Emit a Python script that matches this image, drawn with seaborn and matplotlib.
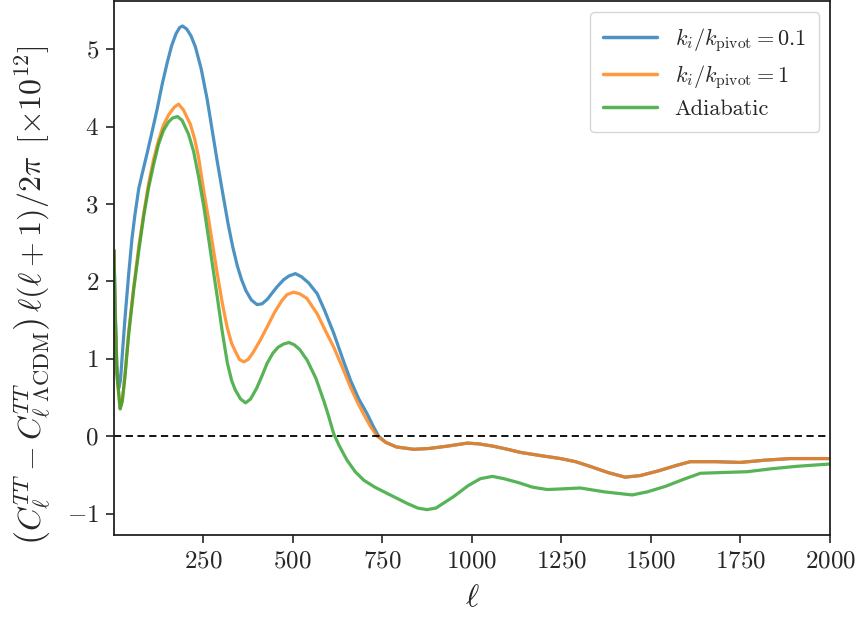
import numpy as np
import pandas as pd
import matplotlib
matplotlib.use("Agg")
import matplotlib.pyplot as plt
import seaborn as sns

# ---- data ----
ell_blue = [2, 5, 10, 15, 20, 25, 33, 43, 52, 60, 71, 80, 94, 108, 122, 136, 150, 163, 175, 185,
            193, 205, 217, 229, 245, 262, 276, 290, 303, 320, 333, 346, 358, 370, 385, 401, 415,
            430, 445, 457, 475, 490, 508, 525, 545, 569, 590, 615, 640, 662, 685, 708, 725, 740,
            760, 790, 838, 880, 931, 988, 1020, 1060, 1100, 1136, 1190, 1248, 1290, 1330, 1380,
            1428, 1470, 1520, 1570, 1610, 1680, 1749, 1820, 1889, 2000]
cl_blue = [2.4, 1.7, 0.9, 0.62, 0.72, 1.05, 1.55, 2.1, 2.55, 2.85, 3.2, 3.38, 3.65, 3.93, 4.22,
           4.54, 4.82, 5.05, 5.2, 5.28, 5.3, 5.26, 5.17, 5.03, 4.75, 4.35, 3.95, 3.55, 3.2, 2.75,
           2.45, 2.2, 2.02, 1.88, 1.76, 1.70, 1.71, 1.77, 1.86, 1.93, 2.02, 2.07, 2.10, 2.06, 1.98,
           1.84, 1.62, 1.33, 1.0, 0.72, 0.48, 0.29, 0.13, 0.0, -0.08, -0.14, -0.17, -0.16, -0.13,
           -0.09, -0.1, -0.13, -0.17, -0.21, -0.25, -0.29, -0.33, -0.39, -0.47, -0.53, -0.51,
           -0.45, -0.38, -0.33, -0.33, -0.34, -0.31, -0.29, -0.29]

ell_orange = [2, 5, 10, 19, 25, 32, 43, 57, 71, 85, 98, 112, 126, 140, 154, 170, 182, 195, 215,
              227, 238, 253, 266, 278, 290, 304, 318, 330, 340, 352, 364, 376, 390, 410, 429, 450,
              470, 485, 503, 520, 540, 569, 590, 615, 640, 662, 680, 700, 718, 736, 760, 790, 838,
              880, 931, 988, 1020, 1060, 1100, 1136, 1190, 1248, 1290, 1330, 1380, 1428, 1470,
              1520, 1570, 1610, 1680, 1749, 1820, 1889, 2000]
cl_orange = [2.4, 1.6, 0.8, 0.36, 0.46, 0.76, 1.35, 1.93, 2.45, 2.88, 3.25, 3.57, 3.82, 4.02, 4.15,
             4.25, 4.29, 4.22, 4.03, 3.84, 3.6, 3.15, 2.8, 2.45, 2.1, 1.72, 1.4, 1.2, 1.1, 0.99,
             0.96, 0.99, 1.08, 1.24, 1.41, 1.6, 1.75, 1.83, 1.86, 1.84, 1.78, 1.58, 1.38, 1.15,
             0.88, 0.63, 0.45, 0.27, 0.12, 0.0, -0.08, -0.14, -0.17, -0.16, -0.13, -0.09, -0.1,
             -0.13, -0.17, -0.21, -0.25, -0.29, -0.33, -0.39, -0.47, -0.53, -0.51, -0.45, -0.38,
             -0.33, -0.33, -0.34, -0.31, -0.29, -0.29]

ell_green = [2, 5, 10, 19, 25, 32, 43, 57, 71, 85, 98, 112, 126, 140, 154, 165, 179, 192, 210,
             224, 238, 253, 266, 278, 290, 304, 318, 330, 340, 355, 369, 383, 400, 415, 429, 445,
             460, 475, 490, 505, 520, 541, 565, 587, 600, 615, 630, 652, 675, 699, 730, 764, 790,
             820, 850, 875, 900, 950, 990, 1024, 1058, 1090, 1130, 1170, 1211, 1260, 1303, 1370,
             1448, 1490, 1540, 1590, 1638, 1700, 1768, 1840, 1907, 2000]
cl_green = [2.4, 1.6, 0.8, 0.35, 0.45, 0.75, 1.32, 1.9, 2.39, 2.85, 3.2, 3.5, 3.77, 3.95, 4.06,
            4.11, 4.13, 4.08, 3.9, 3.68, 3.35, 2.95, 2.55, 2.17, 1.8, 1.35, 0.95, 0.72, 0.6, 0.48,
            0.43, 0.48, 0.62, 0.78, 0.94, 1.07, 1.15, 1.19, 1.21, 1.18, 1.12, 0.98, 0.75, 0.46,
            0.27, 0.03, -0.12, -0.31, -0.46, -0.57, -0.66, -0.74, -0.8, -0.87, -0.93, -0.95,
            -0.93, -0.78, -0.64, -0.55, -0.52, -0.55, -0.6, -0.66, -0.69, -0.68, -0.67, -0.72,
            -0.76, -0.72, -0.65, -0.56, -0.48, -0.47, -0.46, -0.42, -0.39, -0.36]

labels = [r"$k_i/k_{\rm pivot} = 0.1$", r"$k_i/k_{\rm pivot} = 1$", "Adiabatic"]
colors = ["#1f77b4", "#ff7f0e", "#2ca02c"]

df = pd.concat([
    pd.DataFrame({"ell": ell_blue, "val": cl_blue, "model": labels[0]}),
    pd.DataFrame({"ell": ell_orange, "val": cl_orange, "model": labels[1]}),
    pd.DataFrame({"ell": ell_green, "val": cl_green, "model": labels[2]}),
], ignore_index=True)

sns.set_theme(style="ticks")
plt.rcParams.update({
    "font.family": "serif",
    "font.serif": ["cmr10"],
    "mathtext.fontset": "cm",
    "axes.formatter.use_mathtext": True,
    "axes.unicode_minus": True,
    "axes.edgecolor": "#222222",
    "axes.linewidth": 1.3,
    "xtick.major.width": 1.2,
    "ytick.major.width": 1.2,
    "xtick.major.size": 6,
    "ytick.major.size": 6,
    "lines.solid_joinstyle": "round",
})

fig = plt.figure(figsize=(8.6, 6.18), dpi=100)
ax = fig.add_axes([0.1326, 0.134, 0.8326, 0.864])

sns.lineplot(data=df, x="ell", y="val", hue="model", hue_order=labels, palette=colors,
             sort=False, estimator=None, linewidth=2.3, alpha=0.8, ax=ax)
ax.axhline(0, color="black", linestyle="--", linewidth=1.3, dashes=(4, 2.5))

ax.set_xlim(2, 2000)
ax.set_ylim(-1.28, 5.62)
ax.set_xticks([250, 500, 750, 1000, 1250, 1500, 1750, 2000])
ax.set_yticks([-1, 0, 1, 2, 3, 4, 5])
ax.tick_params(labelsize=18, pad=5)
ax.set_xlabel(r"$\ell$", fontsize=23, labelpad=9)
ax.set_ylabel(r"$\left(C_\ell^{TT} - C_{\ell\ \Lambda{\rm CDM}}^{TT}\right)\,\ell(\ell+1)/2\pi\ \, [\times 10^{12}]$",
              fontsize=23)
ax.yaxis.set_label_coords(-0.085, 0.45)

leg = ax.legend(loc="upper right", fontsize=16, frameon=True, fancybox=True,
                handlelength=2.4, borderpad=0.6, labelspacing=0.4)
leg.get_frame().set_edgecolor("#cccccc")
for h in leg.get_lines():
    h.set_linewidth(2.5)

fig.savefig("out.png", dpi=100)
